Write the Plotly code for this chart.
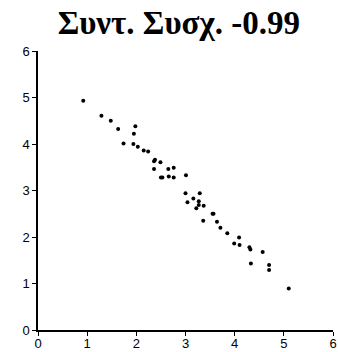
import plotly.graph_objects as go

x_vals = [0.92, 1.29, 1.48, 1.63, 1.98, 1.95, 1.74, 1.94, 2.03, 2.15, 2.24,
          2.36, 2.38, 2.49, 2.36, 2.65, 2.76, 2.50, 2.53, 2.66, 2.76,
          3.01, 3.00, 3.29, 3.16, 3.04, 3.27, 3.27, 3.22, 3.37, 3.55, 3.57,
          3.36, 3.64, 3.71, 3.85, 4.09, 3.99, 4.10, 4.30, 4.32, 4.57,
          4.33, 4.70, 4.70, 5.10]
y_vals = [4.93, 4.61, 4.50, 4.32, 4.38, 4.22, 4.01, 4.00, 3.94, 3.86, 3.84,
          3.63, 3.66, 3.61, 3.46, 3.46, 3.49, 3.28, 3.28, 3.30, 3.28,
          3.33, 2.94, 2.94, 2.83, 2.75, 2.77, 2.69, 2.62, 2.67, 2.50, 2.50,
          2.35, 2.33, 2.20, 2.08, 1.99, 1.86, 1.83, 1.78, 1.73, 1.68,
          1.43, 1.40, 1.29, 0.89]
tick_vals = [0, 1, 2, 3, 4, 5, 6]
title_text = "Συντ. Συσχ. -0.99"

fig = go.Figure()
fig.add_trace(go.Scatter(
    x=x_vals, y=y_vals, mode="markers",
    marker=dict(color="black", size=4),
    showlegend=False,
))

axis_common = dict(
    range=[0, 6],
    tickvals=tick_vals,
    ticktext=[str(v) for v in tick_vals],
    showgrid=False,
    zeroline=False,
    showline=True,
    linecolor="black",
    linewidth=1.5,
    ticks="outside",
    ticklen=4,
    tickwidth=1,
    tickcolor="black",
    automargin=False,
    tickfont=dict(family="Arial, Liberation Sans", size=13, color="black"),
)

fig.update_layout(
    width=338, height=352,
    margin=dict(l=38, r=5, t=51, b=22),
    paper_bgcolor="white",
    plot_bgcolor="white",
    title=dict(
        text="<b>" + title_text + "</b>",
        font=dict(family="Times New Roman, Liberation Serif", size=33, color="black"),
        x=0.529, xanchor="center",
        y=0.935, yanchor="middle",
    ),
    xaxis=dict(**axis_common, ticklabelstandoff=-3),
    yaxis=dict(**axis_common),
)

fig.write_html("out.html")
